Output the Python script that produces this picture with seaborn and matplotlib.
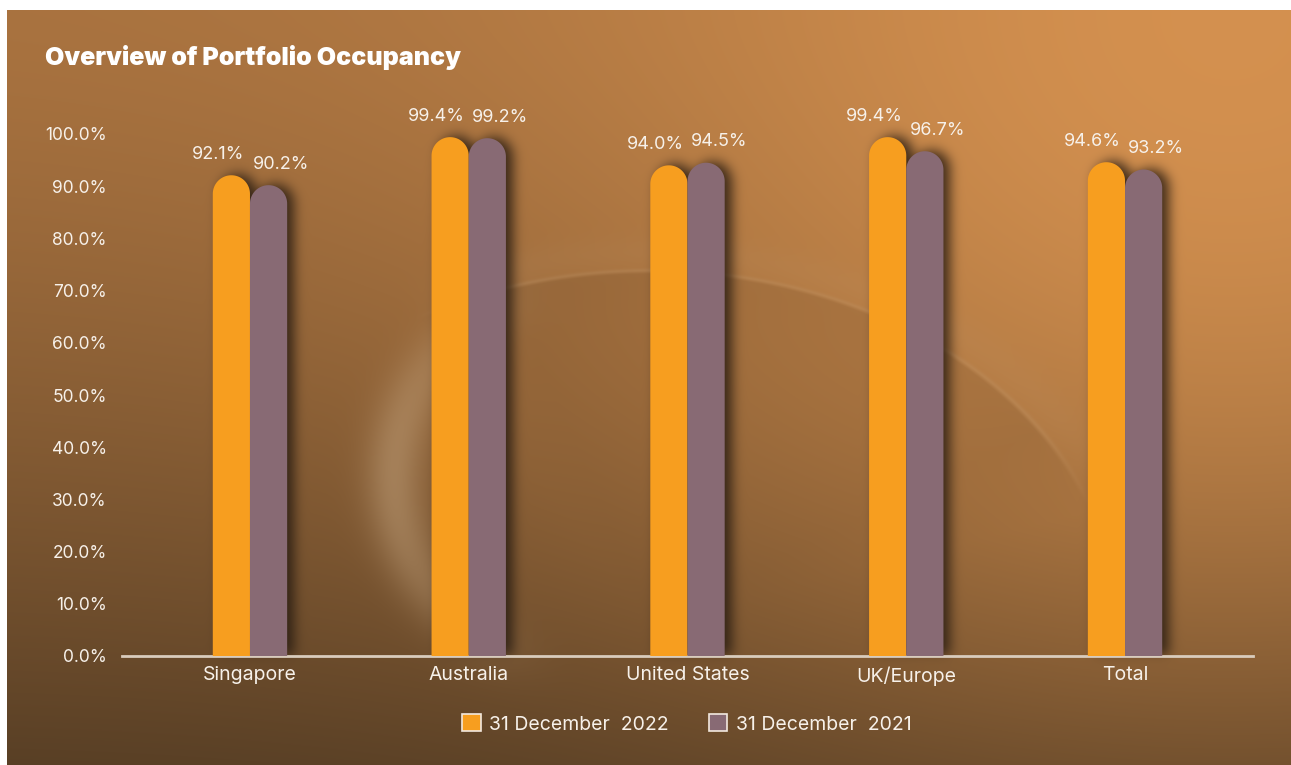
import numpy as np
import pandas as pd
import matplotlib
matplotlib.use("Agg")
import matplotlib.pyplot as plt
from matplotlib.patches import Polygon, Patch
from matplotlib.path import Path
import seaborn as sns

# ---- data -------------------------------------------------------------
regions = ["Singapore", "Australia", "United States", "UK/Europe", "Total"]
occ_2022 = [92.1, 99.4, 94.0, 99.4, 94.6]
occ_2021 = [90.2, 99.2, 94.5, 96.7, 93.2]
periods = ["31 December  2022", "31 December  2021"]
y_ticks = [0, 10, 20, 30, 40, 50, 60, 70, 80, 90, 100]
title = "Overview of Portfolio Occupancy"

ORANGE = "#F79E1F"
MAUVE = "#886A74"
TEXT = "#F7F1EA"
AXIS = "#D9CCBD"

df = pd.DataFrame({
    "region": regions * 2,
    "period": [periods[0]] * len(regions) + [periods[1]] * len(regions),
    "value": occ_2022 + occ_2021,
})

# ---- figure -----------------------------------------------------------
W, H, DPI = 1291, 765, 100
sns.set_style("white")
plt.rcParams["font.family"] = ["Inter", "DejaVu Sans"]

fig = plt.figure(figsize=(W / DPI, H / DPI), dpi=DPI, facecolor="white")
bg_ax = fig.add_axes([0, 0, 1, 1], zorder=0)
bg_ax.set_axis_off()

ax_left, ax_right, ax_top, ax_bottom = 122, 1253, 134, 656
ax = fig.add_axes([ax_left / W, (H - ax_bottom) / H,
                   (ax_right - ax_left) / W, (ax_bottom - ax_top) / H], zorder=2)
ax.patch.set_alpha(0)

sns.barplot(data=df, x="region", y="value", hue="period", order=regions,
            hue_order=periods, palette=[ORANGE, MAUVE], width=0.34,
            saturation=1, legend=False, ax=ax)

ax.set_xlim(-0.585, 4.585)
ax.set_ylim(0, 100)
ax.set_xlabel("")
ax.set_ylabel("")
ax.set_yticks(y_ticks)
ax.set_yticklabels([f"{v:.1f}%" for v in y_ticks])
for s in ["top", "right", "left"]:
    ax.spines[s].set_visible(False)
ax.spines["bottom"].set_color(AXIS)
ax.spines["bottom"].set_linewidth(2)
ax.tick_params(axis="y", length=0, pad=11, labelsize=12.5, labelcolor=TEXT)
ax.tick_params(axis="x", length=0, pad=7.5, labelsize=14, labelcolor=TEXT)

# ---- pill-shaped bars ---------------------------------------------------
px_per_y = (ax_bottom - ax_top) / 100.0
pills = []
for rect in list(ax.patches):
    x0 = rect.get_x()
    w = rect.get_width()
    v = rect.get_height()
    color = rect.get_facecolor()
    rect.set_visible(False)
    half_px = w * (ax_right - ax_left) / (ax.get_xlim()[1] - ax.get_xlim()[0]) / 2
    ry = half_px / px_per_y
    xc = x0 + w / 2
    theta = np.linspace(0, np.pi, 60)
    cap = np.column_stack([xc + (w / 2) * np.cos(theta), v - ry + ry * np.sin(theta)])
    verts = np.vstack([[x0 + w, 0], cap, [x0, 0]])
    ax.add_patch(Polygon(verts, closed=True, facecolor=color, edgecolor="none", zorder=3))
    pills.append(verts)
    is_2022 = np.allclose(color[:3], matplotlib.colors.to_rgb(ORANGE), atol=0.02)
    dx = -0.063 if is_2022 else 0.058
    ax.text(xc + dx, v + 4.0, f"{v:.1f}%", ha="center", va="center",
            fontsize=13, color=TEXT, zorder=4, clip_on=False)

# ---- background with soft glow and drop shadow --------------------------
yy, xx = np.mgrid[0:H, 0:W].astype(float)
t = np.clip((yy - 10) / (H - 10), 0, 1)
top = np.array([168, 114, 63]) / 255
bot = np.array([88, 63, 37]) / 255
g = t[..., None] ** 1.35
img = top * (1 - g) + bot * g

# warm light from the upper right
glow_col = np.array([214, 146, 80]) / 255
d = np.hypot(xx - 1230, yy - 20)
wgl = np.exp(-(d / 620) ** 2)[..., None] * 0.95
img = img * (1 - wgl) + glow_col * wgl

# large faint halo across the upper part: thin bright rim, darker just inside
cx, cy, a, b = 650, 620, 465, 350
re = np.hypot((xx - cx) / a, (yy - cy) / b)
ang = np.degrees(np.arctan2(yy - cy, xx - cx))
win = np.clip((ang + 128) / 15, 0, 1) * np.clip((-14 - ang) / 12, 0, 1)
inner = np.clip((1.0 - re) / 0.01, 0, 1) * np.exp(-(1.0 - re) / 0.3) * win
img = img * (1 - 0.08 * inner[..., None])
rim = np.exp(-((re - 1.0) / 0.006) ** 2) * win * 0.16
above = np.exp(-((re - 1.05) / 0.05) ** 2) * win * 0.07

# lit crescent on the left of a smaller sphere
sx, sy, sr = 580, 478, 222
rs = np.hypot(xx - sx, yy - sy) / sr
angs = np.arctan2(yy - sy, xx - sx)
crescent = (np.exp(-((rs - 0.84) / 0.13) ** 2)
            * np.clip(-np.cos(angs), 0, 1) ** 1.8 * 0.48)

light = np.array([196, 165, 128]) / 255
lw = np.clip(rim + above + crescent, 0, 1)[..., None]
img = img * (1 - lw) + light * lw

# drop shadow of the bars, rasterised in pixel space and blurred
fig.canvas.draw()
pts = np.column_stack([xx.ravel() + 0.5, H - (yy.ravel() + 0.5)])
mask = np.zeros(H * W)
for verts in pills:
    disp = ax.transData.transform(verts)
    mask = np.maximum(mask, Path(disp).contains_points(pts).astype(float))
mask = mask.reshape(H, W)
mask = np.roll(mask, 7, axis=1)
mask = np.roll(mask, -1, axis=0)


def blur(arr, sigma):
    r = int(3 * sigma)
    k = np.exp(-0.5 * (np.arange(-r, r + 1) / sigma) ** 2)
    k /= k.sum()
    out = np.zeros_like(arr)
    for i, kv in zip(range(-r, r + 1), k):
        out += kv * np.roll(arr, i, axis=1)
    out2 = np.zeros_like(arr)
    for i, kv in zip(range(-r, r + 1), k):
        out2 += kv * np.roll(out, i, axis=0)
    return out2


shadow = blur(mask, 6.0)
shadow[ax_bottom + 2:, :] *= 0.35
sa = (np.clip(shadow, 0, 1) * 0.85)[..., None]
shadow_col = np.array([40, 28, 18]) / 255
img = img * (1 - sa) + shadow_col * sa

# white margin round the panel
img[:10, :] = 1.0
img[:, :7] = 1.0

bg_ax.imshow(np.clip(img, 0, 1), extent=(0, W, 0, H), origin="upper",
             aspect="auto", interpolation="bilinear")
bg_ax.set_xlim(0, W)
bg_ax.set_ylim(0, H)

# ---- title and legend ---------------------------------------------------
fig.text(45 / W, 1 - 58 / H, title, ha="left", va="center", fontsize=18,
         fontweight="black", color="white")

handles = [Patch(facecolor=ORANGE, edgecolor="#F3E9DF", linewidth=1.2, joinstyle="round"),
           Patch(facecolor=MAUVE, edgecolor="#F3E9DF", linewidth=1.2, joinstyle="round")]
leg = fig.legend(handles, periods, loc="center", bbox_to_anchor=(687 / W, 1 - 724 / H),
                 ncol=2, frameon=False, handlelength=0.95, handleheight=0.95,
                 handletextpad=0.45, columnspacing=2.05, labelcolor=TEXT,
                 prop={"size": 14})

fig.savefig("out.png", dpi=DPI, facecolor="white")
